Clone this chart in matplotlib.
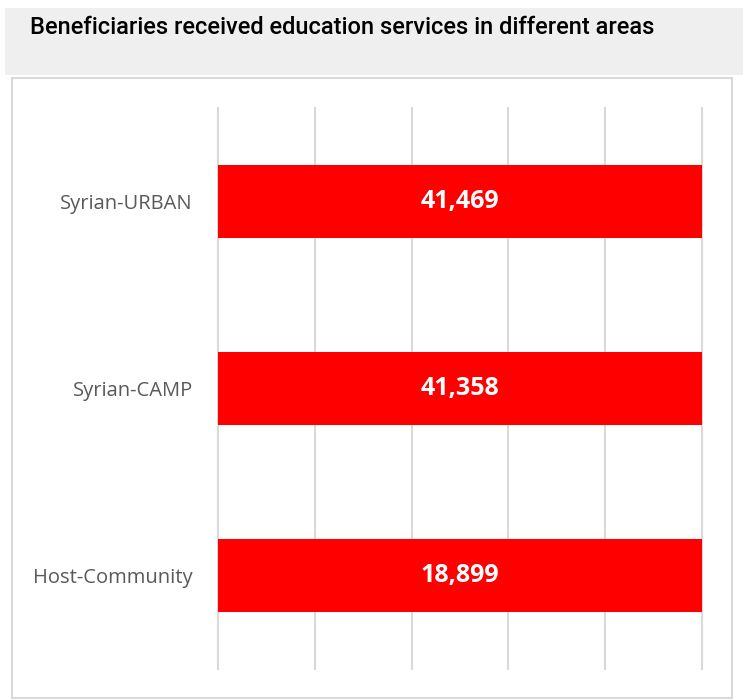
import matplotlib.pyplot as plt
from matplotlib.patches import Rectangle

areas = ["Syrian-URBAN", "Syrian-CAMP", "Host-Community"]
beneficiaries = [41469, 41358, 18899]
# 100% stacked style: each bar fills the full scale
share = [1.0, 1.0, 1.0]

fig = plt.figure(figsize=(7.43, 7.0), dpi=100)
W, H = 743, 700

# grey title band and white chart box
fig.patches.append(Rectangle((5 / W, 1 - 75 / H), 738 / W, 67 / H,
                             transform=fig.transFigure, facecolor="#efefef",
                             edgecolor="none", zorder=0))
fig.patches.append(Rectangle((12 / W, 1 - 698 / H), 720 / W, 620 / H,
                             transform=fig.transFigure, facecolor="white",
                             edgecolor="#d9d9d9", linewidth=1.5, zorder=1))

fig.text(30 / W, 1 - 27 / H, "Beneficiaries received education services in different areas",
         fontsize=17, fontweight="medium", va="center", ha="left", color="black",
         family="Roboto")

ax = fig.add_axes([218 / W, 1 - 669 / H, 484 / W, 561 / H])
ax.set_facecolor("none")
ax.set_zorder(2)

y = list(range(len(areas)))
ax.barh(y, share, height=0.39, color="#ff0000", zorder=3)
for yi, v in zip(y, beneficiaries):
    ax.text(0.5, yi, f"{v:,}", ha="center", va="center", color="white",
            fontsize=18, fontweight="bold", family="Open Sans", zorder=4)

ax.set_xlim(0, 1)
ax.set_ylim(2.5, -0.5)
ax.set_xticks([0, 0.2, 0.4, 0.6, 0.8, 1.0])
ax.set_xticklabels([])
ax.tick_params(axis="x", length=0)
ax.grid(axis="x", color="#d9d9d9", linewidth=1.5, zorder=0)
for gl in ax.get_xgridlines():
    gl.set_clip_on(False)
ax.set_yticks(y)
ax.set_yticklabels(areas, fontsize=14.5, color="#595959", family="Open Sans")
ax.tick_params(axis="y", length=0, pad=18)
for s in ax.spines.values():
    s.set_visible(False)

fig.savefig("out.png", dpi=100)
